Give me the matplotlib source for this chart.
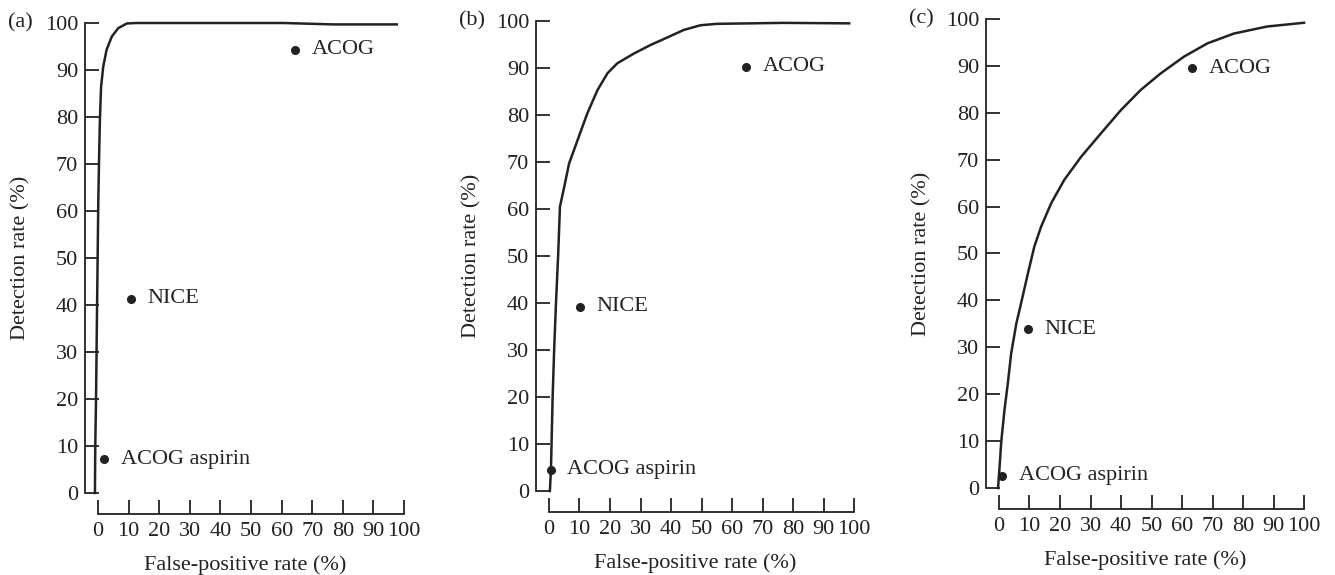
import matplotlib
matplotlib.use("Agg")
import matplotlib.pyplot as plt

plt.rcParams['font.family'] = ['Liberation Serif', 'DejaVu Serif']

# ROC curves (false-positive %, detection %)
fpr_a = [-1.0, -0.9, -0.65, -0.3, 0.1, 0.4, 0.65, 1.0, 1.7, 2.8, 4.5, 6.6, 9.4, 12.6, 40, 60.6, 76.9, 97.6]
dr_a = [0.0, 10.0, 19.8, 40.0, 62.3, 73.0, 80.0, 86.4, 90.7, 94.3, 97.1, 98.9, 99.9, 100.0, 100.0, 100.0, 99.7, 99.7]

fpr_b = [0.3, 0.65, 1.2, 1.7, 2.3, 3.0, 3.6, 5.0, 6.6, 9.4, 12.6, 15.9, 19.2, 22.4, 27.9, 33.3, 38.8, 44.2, 49.7, 55.1, 66.0, 76.9, 98.4]
dr_b = [0.0, 4.5, 20.0, 30.0, 40.0, 50.0, 60.5, 64.7, 69.7, 74.7, 80.4, 85.3, 88.9, 91.0, 93.1, 94.9, 96.5, 98.1, 99.1, 99.4, 99.5, 99.6, 99.5]

fpr_c = [-0.3, 0.2, 0.75, 1.8, 2.9, 4.0, 5.7, 7.5, 9.5, 11.6, 13.8, 17.1, 21.4, 26.9, 33.4, 40.0, 46.5, 53.0, 60.7, 68.3, 77.0, 87.9, 100.0]
dr_c = [0.0, 4.5, 9.9, 16.6, 22.3, 28.7, 35.1, 40.1, 45.8, 51.5, 55.7, 60.7, 65.7, 70.6, 75.6, 80.6, 84.9, 88.4, 92.0, 94.8, 96.9, 98.4, 99.2]

# screening strategies
labels = ["ACOG", "NICE", "ACOG aspirin"]
pts_a = [(64.4, 94.3), (10.8, 41.3), (2.0, 7.2)]
pts_b = [(64.6, 90.3), (10.2, 39.2), (0.6, 4.5)]
pts_c = [(63.3, 89.5), (9.5, 33.8), (1.0, 2.6)]

panels = ["(a)", "(b)", "(c)"]
ticks = list(range(0, 101, 10))

ink = "#222222"
fs = 16
fig = plt.figure(figsize=(13.35, 5.75), dpi=100)

# axes boxes in pixels: (spine x, right edge, y=0 px from top, y=100 px from top)
boxes = [(85, 405, 493, 23), (536, 855, 491, 21), (986, 1305, 488, 19)]
curves = [(fpr_a, dr_a), (fpr_b, dr_b), (fpr_c, dr_c)]
points = [pts_a, pts_b, pts_c]

W, H = 1335, 575
for i in range(3):
    left, right, y0, y100 = boxes[i]
    ax = fig.add_axes([left / W, (H - y0) / H, (right - left) / W, (y0 - y100) / H])
    ax.set_xlim(-4.25, 100.3)
    ax.set_ylim(0, 100)
    ax.plot(curves[i][0], curves[i][1], color=ink, lw=1.8, clip_on=False,
            solid_joinstyle='round')
    for lab, (x, y) in zip(labels, points[i]):
        ax.plot(x, y, 'o', color=ink, ms=5.5, clip_on=False)
        ax.annotate(lab, (x, y), xytext=(12, 0), textcoords='offset points',
                    va='center', ha='left', fontsize=fs, color=ink)

    for s in ['top', 'right']:
        ax.spines[s].set_visible(False)
    ax.spines['left'].set_bounds(0, 100)
    ax.spines['bottom'].set_bounds(0, 100)
    ax.spines['bottom'].set_position(('outward', 15))
    for s in ['left', 'bottom']:
        ax.spines[s].set_color(ink)
        ax.spines[s].set_linewidth(1.3)

    ax.set_xticks(ticks)
    ax.set_yticks(ticks)
    ax.tick_params(direction='in', length=10, width=1.3, color=ink,
                   labelsize=fs, labelcolor=ink, pad=6)
    ax.tick_params(axis='y', pad=5)
    ax.set_xlabel("False-positive rate (%)", fontsize=fs, color=ink, labelpad=10)
    ax.set_ylabel("Detection rate (%)", fontsize=fs, color=ink, labelpad=10)
    ax.text(-0.24, 1.0, panels[i], transform=ax.transAxes, fontsize=fs,
            color=ink, va='center', ha='left')

fig.savefig("out.png", dpi=100)
